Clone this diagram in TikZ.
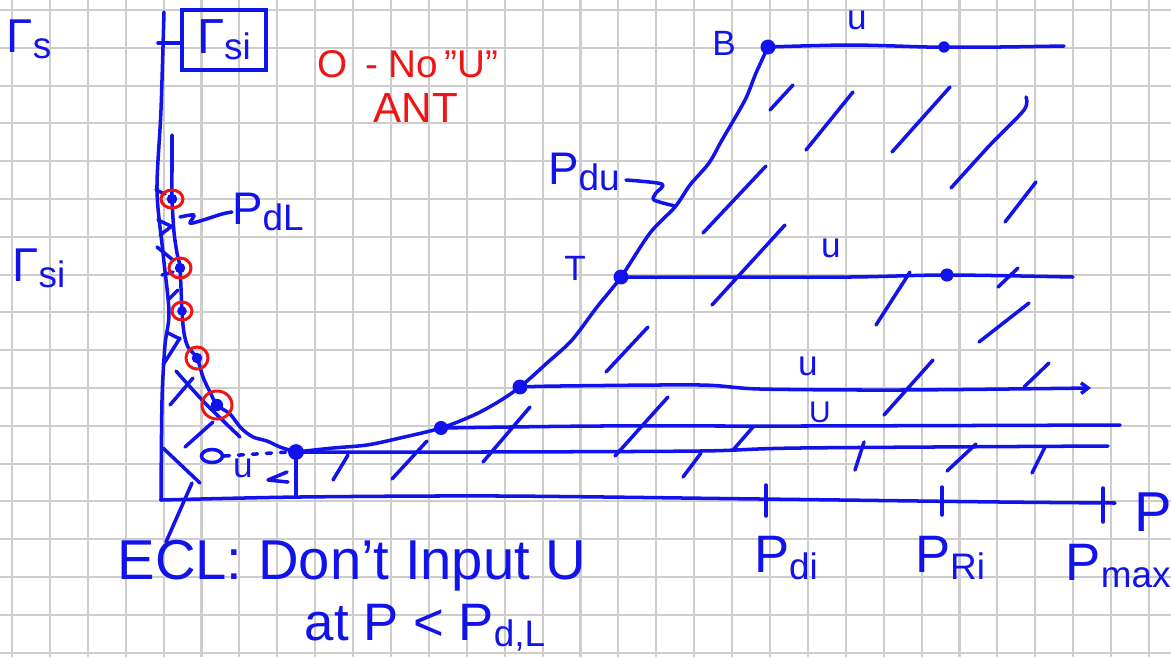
\documentclass[tikz,border=0pt]{standalone}
\usepackage{fontspec}
\usepackage{graphicx}
\setmainfont{Liberation Sans}
\usetikzlibrary{arrows.meta,shapes.geometric}
\definecolor{pen}{RGB}{18,18,235}
\definecolor{redpen}{RGB}{240,20,20}
\definecolor{gridc}{RGB}{205,205,205}
\newcommand\lw[1]{\raisebox{-0.12em}{\fontsize{21}{21}\selectfont #1}}
\begin{document}
\begin{tikzpicture}[x=0.02cm,y=-0.02cm,
  ink/.style={draw=pen,line width=2pt,line cap=round,line join=round},
  ring/.style={draw=redpen,line width=1.7pt},
  pdot/.style={circle,fill=pen,inner sep=0pt,minimum size=#1},
  pdot/.default=8pt,
  lbl/.style={text=pen,inner sep=0pt},
  big/.style={font=\fontsize{30}{32}\selectfont},
  mid/.style={font=\fontsize{26}{28}\selectfont},
  sml/.style={font=\fontsize{20}{22}\selectfont},
  rlbl/.style={text=redpen,inner sep=0pt,font=\fontsize{22}{24}\selectfont}]
\useasboundingbox (0,0) rectangle (1171,657);
\fill[white] (0,0) rectangle (1171,657);
% grid
\foreach \i in {0,...,30} \draw[gridc,line width=1.2pt] ({12+37.9*\i},0) -- ({12+37.9*\i},657);
\foreach \j in {0,...,17} \draw[gridc,line width=1.2pt] (0,{10+37.8*\j}) -- (1171,{10+37.8*\j});

% dots
\node[pdot=9pt] (D0) at (296,452) {};
\node[pdot=8pt] (D1) at (441,428) {};
\node[pdot=8.5pt] (D2) at (520,387) {};
\node[pdot=8.5pt] (Tp) at (621,277) {};
\node[pdot=8.5pt] (Bp) at (768,47) {};
\node[pdot=6.5pt] (B2) at (944,47) {};
\node[pdot=7.5pt] (T2) at (947,275) {};
\node[pdot=6pt] (L1) at (172,199) {};
\node[pdot=6pt] (L2) at (180,268) {};
\node[pdot=5.5pt] (L3) at (182,311) {};
\node[pdot=6pt] (L4) at (197,358) {};
\node[pdot=7pt] (L5) at (217,405) {};

% axes
\coordinate (ytop) at (164,12);
\coordinate (orig) at (161,500);
\coordinate (xend) at (1115,503);
\draw[ink] plot[smooth] coordinates {(ytop) (161,110) (157,190) (163,253) (169,312) (165,345) (162,400) (orig)};
\draw[ink] plot[smooth] coordinates {(orig) (300,497) (500,496) (760,499) (1000,502) (xend)};
\draw[ink] (158,43) -- (180,43);
\draw[ink] (766,485) -- (766,516);
\draw[ink] (942,487) -- (942,515);
\draw[ink] (1103,488) -- (1103,522);

% Pdl curve
\coordinate (Ltop) at (172,135);
\draw[ink] plot[smooth] coordinates {(Ltop) (172,170) (L1.center) (174,232) (177,253) (L2.center) (L3.center) (184,333) (188,347) (L4.center) (203,377) (210,392) (L5.center) (230,414) (241,428) (253,437) (267,441) (280,447) (D0.center)};
% inner curve
\draw[ink] plot[smooth] coordinates {(176,371) (205,403) (240,437)};
% vertical from D0
\draw[ink] (D0.center) -- (296,497);

% Pdu curve
\draw[ink] plot[smooth] coordinates {(D0.center) (333,448) (367,445) (400,438) (D1.center) (474,415) (498,402) (D2.center) (547,363) (572,340) (597,307) (Tp.center) (650,233) (675,207) (690,185) (709,163) (722,140) (745,100) (756,73) (Bp.center)};

% horizontal lines
\coordinate (Be) at (1064,46);
\coordinate (Te) at (1073,277);
\coordinate (D2e) at (1091,388);
\coordinate (D1e) at (1120,425);
\coordinate (D0e) at (1108,446);
\draw[ink] plot[smooth] coordinates {(Bp.center) (850,45) (927,47) (B2.center) (1000,47) (Be)};
\draw[ink] plot[smooth] coordinates {(Tp.center) (700,277) (850,277) (T2.center) (Te)};
\draw[ink,-{Straight Barb[length=4pt,width=6pt]}] plot[smooth] coordinates {(D2.center) (560,386) (700,385) (760,389) (900,390) (D2e)};
\draw[ink] plot[smooth] coordinates {(D1.center) (600,426) (800,426) (D1e)};
\draw[ink] plot[smooth] coordinates {(D0.center) (480,452) (700,451) (800,448) (D0e)};

% hatching, right region
\foreach \a/\b in {
  {(793,85)}/{(770,110)}, {(853,92)}/{(806,150)}, {(950,87)}/{(892,152)},
  {(766,166)}/{(703,233)}, {(1036,182)}/{(1005,222)}, {(785,225)}/{(712,305)},
  {(910,272)}/{(876,325)}, {(1018,268)}/{(998,287)}, {(1029,303)}/{(979,342)},
  {(648,327)}/{(606,372)}, {(933,360)}/{(884,415)}, {(1049,363)}/{(1024,387)},
  {(530,407)}/{(483,462)}, {(668,397)}/{(615,456)}, {(753,427)}/{(733,450)},
  {(701,453)}/{(683,477)}, {(864,442)}/{(855,470)}, {(976,444)}/{(947,471)},
  {(1045,447)}/{(1032,473)}, {(427,441)}/{(392,479)}, {(348,455)}/{(333,480)}}
  \draw[ink] \a -- \b;
\draw[ink] plot[smooth] coordinates {(1026,97) (1024,110) (990,145) (951,188)};
% hatching, left region
\foreach \a/\b in {
  {(163,448)}/{(200,483)}, {(192,483)}/{(166,542)}, {(185,447)}/{(213,422)},
  {(170,405)}/{(193,378)}, {(163,365)}/{(180,338)}, {(156,190)}/{(165,194)},
  {(158,220)}/{(173,227)}, {(160,235)}/{(172,226)}, {(157,247)}/{(173,260)},
  {(162,275)}/{(173,272)}, {(168,300)}/{(178,290)}, {(168,333)}/{(180,339)}}
  \draw[ink] \a -- \b;

% red rings
\draw[ring] (L1) ellipse [x radius=11, y radius=9];
\draw[ring] (L2) ellipse [x radius=11, y radius=10];
\draw[ring] (L3) ellipse [x radius=10, y radius=9];
\draw[ring] (L4) ellipse [x radius=11, y radius=11];
\draw[ring] (L5) ellipse [x radius=15, y radius=14];

% small o with dotted line, u and mark
\node[draw=pen,line width=2pt,ellipse,inner sep=0pt,minimum width=0.42cm,minimum height=0.26cm] (oo) at (212,456) {};
\draw[ink,dash pattern=on 3pt off 5pt] (oo.east) -- (D0.west);
\draw[ink] (287,472) -- (268,480) -- (288,482);
\node[lbl,sml] (ulow) at (243,468) {u};

% labels
\node[lbl,font=\fontsize{27}{29}\selectfont] (gs) at (29,39) {Γ\lw{s}};
\node[lbl,font=\fontsize{27}{29}\selectfont] (gsi) at (39,268) {Γ\lw{si}};
\node[lbl,draw=pen,line width=2pt,font=\fontsize{28}{30}\selectfont,minimum width=1.68cm,minimum height=1.2cm] (gsib) at (224,40) {Γ\lw{si}};
\node[rlbl] (noU) at (408,64) {O\, - No\,"U"};
\node[rlbl,font=\fontsize{24}{26}\selectfont] (ant) at (416,108) {ANT};
\node[lbl,mid] (pdl) at (268,212) {P\lw{dL}};
\coordinate (pdlc) at (180,217);
\draw[ink] plot[smooth] coordinates {(pdl.west) (222,214) (200,221) (190,223) (194,215) (pdlc)};
\node[lbl,mid] (pdu) at (584,172) {P\lw{du}};
\coordinate (pduc) at (675,206);
\draw[ink] plot[smooth] coordinates {(626,180) (662,184) (656,193) (654,200) (pduc)};
\node[lbl,sml] (bl) at (724,43) {B};
\node[lbl,sml] (tl) at (575,268) {T};
\node[lbl,sml] (u1) at (857,20) {u};
\node[lbl,sml] (u2) at (831,248) {u};
\node[lbl,sml] (u3) at (808,366) {u};
\node[lbl,font=\fontsize{17}{18}\selectfont] (u4) at (820,412) {U};
\node[lbl,font=\fontsize{32}{34}\selectfont] (px) at (1153,512) {P};
\node[lbl,big] (pdi) at (786,558) {P\lw{di}};
\node[lbl,big] (pri) at (950,558) {P\lw{Ri}};
\node[lbl,big,anchor=east] (pmax) at (1171,566) {P\lw{max}};
\node[lbl,font=\fontsize{32}{34}\selectfont] (ecl) at (352,566) {ECL: Don't Input U};
\node[lbl,font=\fontsize{30}{32}\selectfont] (ecl2) at (425,628) {at P < P\lw{d,L}};
\end{tikzpicture}
\end{document}
